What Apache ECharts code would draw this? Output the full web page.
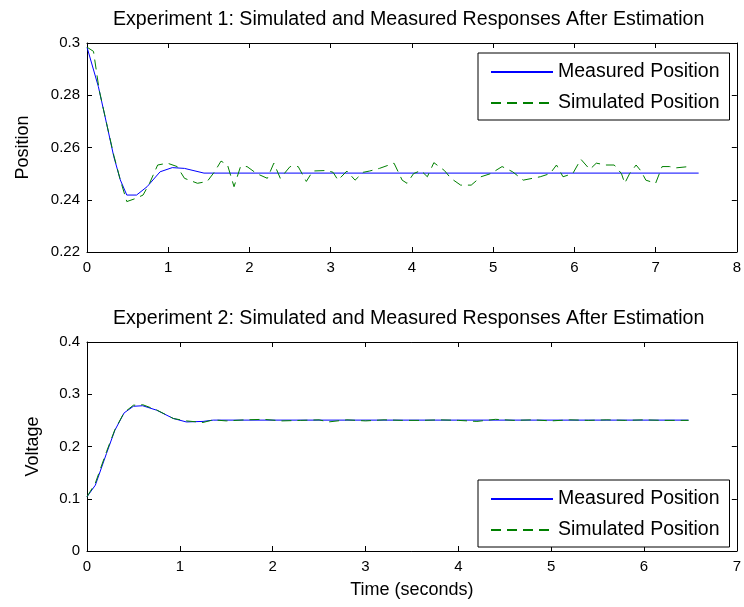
<!DOCTYPE html>
<html>
<head>
<meta charset="utf-8">
<script src="https://cdn.jsdelivr.net/npm/echarts@6/dist/echarts.min.js"></script>
<style>html,body{margin:0;padding:0;background:#fff;}#c{width:744px;height:607px;}</style>
</head>
<body>
<div id="c"></div>
<script>
// ---- Experiment 1 data ----
const exp1MeasT = [0, 0.14, 0.24, 0.33, 0.41, 0.49, 0.61, 0.74, 0.9, 1.05, 1.2, 1.44, 7.53];
const exp1MeasV = [0.2984, 0.2833, 0.2693, 0.2565, 0.2476, 0.2418, 0.2418, 0.245, 0.2507, 0.2523, 0.252, 0.2502, 0.2502];
const exp1SimT = [0, 0.08, 0.15, 0.25, 0.33, 0.41, 0.49, 0.6, 0.69, 0.77, 0.87, 0.99, 1.11, 1.2, 1.36, 1.48, 1.57, 1.65, 1.73, 1.81, 1.89, 1.97, 2.09, 2.22, 2.3, 2.38, 2.5, 2.6, 2.7, 2.78, 2.95, 3.03, 3.09, 3.2, 3.3, 3.4, 3.48, 3.6, 3.78, 3.88, 3.94, 4.02, 4.11, 4.19, 4.27, 4.4, 4.48, 4.6, 4.73, 4.85, 4.97, 5.11, 5.24, 5.37, 5.58, 5.7, 5.78, 5.86, 5.98, 6.08, 6.19, 6.27, 6.39, 6.49, 6.58, 6.62, 6.68, 6.76, 6.82, 6.88, 7.0, 7.08, 7.17, 7.25, 7.41, 7.45];
const exp1SimV = [0.2984, 0.2968, 0.282, 0.268, 0.257, 0.2476, 0.2393, 0.2405, 0.2418, 0.2463, 0.2533, 0.254, 0.2527, 0.2482, 0.2463, 0.247, 0.2507, 0.2548, 0.2533, 0.245, 0.2527, 0.2527, 0.25, 0.2482, 0.254, 0.2482, 0.2527, 0.2527, 0.247, 0.251, 0.2512, 0.2505, 0.2475, 0.251, 0.2475, 0.2505, 0.251, 0.252, 0.254, 0.2475, 0.2463, 0.25, 0.2512, 0.2488, 0.2542, 0.2512, 0.2482, 0.2456, 0.2456, 0.2488, 0.25, 0.2527, 0.2507, 0.2475, 0.2488, 0.25, 0.2533, 0.2488, 0.25, 0.2555, 0.2516, 0.254, 0.2533, 0.2533, 0.25, 0.2463, 0.25, 0.2533, 0.251, 0.2475, 0.2463, 0.2527, 0.2527, 0.2522, 0.2527, 0.2527];

// ---- Experiment 2 data ----
const exp2MeasT = [0, 0.09, 0.21, 0.3, 0.4, 0.5, 0.6, 0.75, 0.93, 1.07, 1.25, 1.36, 6.48];
const exp2MeasV = [0.1038, 0.126, 0.1867, 0.231, 0.2643, 0.277, 0.278, 0.2695, 0.2536, 0.247, 0.248, 0.2505, 0.2505];
const exp2SimT = [0, 0.09, 0.21, 0.3, 0.4, 0.5, 0.6, 0.75, 0.93, 1.07, 1.25, 1.36, 1.5, 1.7, 1.9, 2.1, 2.3, 2.5, 2.6, 2.8, 3.0, 3.2, 3.4, 3.6, 3.8, 4.0, 4.2, 4.4, 4.6, 4.8, 5.0, 5.2, 5.4, 5.6, 5.8, 6.0, 6.2, 6.48];
const exp2SimV = [0.1038, 0.13, 0.19, 0.232, 0.265, 0.279, 0.28, 0.27, 0.2536, 0.249, 0.246, 0.251, 0.249, 0.251, 0.252, 0.249, 0.25, 0.251, 0.247, 0.251, 0.249, 0.251, 0.25, 0.25, 0.251, 0.25, 0.248, 0.252, 0.25, 0.251, 0.249, 0.251, 0.25, 0.251, 0.25, 0.251, 0.25, 0.25];

const titles = ['Experiment 1: Simulated and Measured Responses After Estimation', 'Experiment 2: Simulated and Measured Responses After Estimation'];
const seriesNames = ['Measured Position', 'Simulated Position'];
const yNames = ['Position', 'Voltage'];
const xName = 'Time (seconds)';
const x1Range = [0, 8], y1Range = [0.22, 0.3], y1Step = 0.02;
const x2Range = [0, 7], y2Range = [0, 0.4], y2Step = 0.1;

const FONT = 'Liberation Sans, Arial, sans-serif';
const pair = (t, v) => t.map((x, i) => [x, v[i]]);
const fmt = v => String(+(+v).toFixed(2));

function xAx(grid, range, pos, showLabel, name) {
  return {
    type: 'value', gridIndex: grid, position: pos, min: range[0], max: range[1], interval: 1,
    axisLine: {show: true, onZero: false, lineStyle: {color: '#000', width: 1}},
    axisTick: {show: true, inside: true, length: 5, lineStyle: {color: '#000'}},
    axisLabel: {show: showLabel, color: '#000', fontSize: 15, fontFamily: FONT, margin: 8},
    splitLine: {show: false},
    name: name || '', nameLocation: 'middle', nameGap: 30,
    nameTextStyle: {color: '#000', fontSize: 18, fontFamily: FONT}
  };
}
function yAx(grid, range, step, pos, showLabel, name, gap) {
  return {
    type: 'value', gridIndex: grid, position: pos, min: range[0], max: range[1], interval: step,
    axisLine: {show: true, onZero: false, lineStyle: {color: '#000', width: 1}},
    axisTick: {show: true, inside: true, length: 5, lineStyle: {color: '#000'}},
    axisLabel: {show: showLabel, color: '#000', fontSize: 15, fontFamily: FONT, margin: 7, formatter: fmt},
    splitLine: {show: false},
    name: name || '', nameLocation: 'middle', nameGap: gap || 0, nameRotate: 90,
    nameTextStyle: {color: '#000', fontSize: 18, fontFamily: FONT}
  };
}
function legend(top) {
  return {
    data: seriesNames, orient: 'vertical', left: 478, top: top,
    borderColor: '#000', borderWidth: 1, backgroundColor: '#fff',
    padding: [9, 10, 7, 12], itemWidth: 62, itemHeight: 14, itemGap: 11,
    itemStyle: {color: 'rgba(0,0,0,0)', borderColor: 'rgba(0,0,0,0)', borderWidth: 0},
    textStyle: {color: '#000', fontSize: 19.5, fontFamily: FONT, lineHeight: 18},
    selectedMode: false
  };
}
const measStyle = {color: '#0000ff', width: 1, type: 'solid'};
const simStyle = {color: '#008000', width: 1, type: [10, 6]};
function line(name, data, xi, yi, style) {
  return {
    name: name, type: 'line', xAxisIndex: xi, yAxisIndex: yi, data: data,
    symbol: 'none', showSymbol: false, lineStyle: style, itemStyle: {color: style.color},
    animation: false, silent: true
  };
}

const chart = echarts.init(document.getElementById('c'));
chart.setOption({
  backgroundColor: '#fff',
  animation: false,
  title: [
    {text: titles[0], left: 108, top: 5, textStyle: {color: '#000', fontSize: 19.6, fontWeight: 'normal', fontFamily: FONT}},
    {text: titles[1], left: 108, top: 304, textStyle: {color: '#000', fontSize: 19.6, fontWeight: 'normal', fontFamily: FONT}}
  ],
  grid: [
    {left: 87, right: 6, top: 43, height: 209},
    {left: 87, right: 6, top: 342, height: 209}
  ],
  legend: [legend(53), legend(480)],
  xAxis: [
    xAx(0, x1Range, 'bottom', true),
    xAx(0, x1Range, 'top', false),
    xAx(1, x2Range, 'bottom', true, xName),
    xAx(1, x2Range, 'top', false)
  ],
  yAxis: [
    yAx(0, y1Range, y1Step, 'left', true, yNames[0], 55),
    yAx(0, y1Range, y1Step, 'right', false),
    yAx(1, y2Range, y2Step, 'left', true, yNames[1], 45),
    yAx(1, y2Range, y2Step, 'right', false)
  ],
  series: [
    line(seriesNames[0], pair(exp1MeasT, exp1MeasV), 0, 0, measStyle),
    line(seriesNames[1], pair(exp1SimT, exp1SimV), 0, 0, simStyle),
    line(seriesNames[0], pair(exp2MeasT, exp2MeasV), 2, 2, measStyle),
    line(seriesNames[1], pair(exp2SimT, exp2SimV), 2, 2, simStyle)
  ]
});
</script>
</body>
</html>
